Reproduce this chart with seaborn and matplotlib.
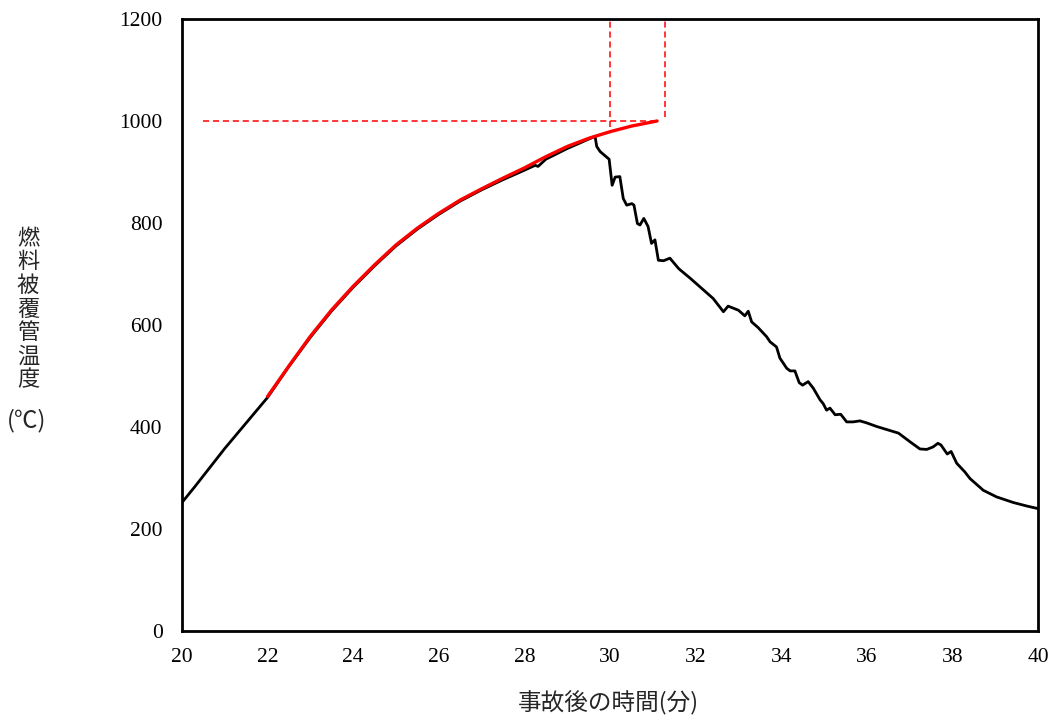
import matplotlib
matplotlib.use('Agg')
import matplotlib.pyplot as plt
import seaborn as sns
import pandas as pd

# 燃料被覆管温度（計算値）
black_t = [20.0, 20.3, 21.0, 22.0, 22.5, 23.0, 23.5, 24.0, 24.5, 25.0, 25.5, 26.0,
           26.5, 27.0, 27.5, 27.8, 28.25, 28.32, 28.5, 29.0, 29.3, 29.65,
           29.69, 29.77, 29.98, 30.05, 30.12, 30.23, 30.31, 30.39, 30.51, 30.56,
           30.64, 30.70, 30.79, 30.89, 30.97, 31.05, 31.13, 31.25, 31.40, 31.60,
           31.64, 31.87, 32.18, 32.41, 32.65, 32.76, 33.00, 33.15, 33.23, 33.31,
           33.46, 33.66, 33.74, 33.89, 33.97, 34.13, 34.21, 34.32, 34.42, 34.50,
           34.63, 34.75, 34.91, 34.98, 35.06, 35.14, 35.26, 35.39, 35.53, 35.68,
           35.84, 36.00, 36.23, 36.74, 37.01, 37.24, 37.40, 37.55, 37.66, 37.73,
           37.88, 37.97, 38.10, 38.29, 38.41, 38.72, 39.03, 39.42, 39.74, 40.0]
black_temp = [252, 283, 358, 458, 519, 576, 628, 674, 716, 755, 788, 817,
              843, 865, 885, 896, 913, 911, 925, 946, 957, 970,
              950, 940, 925, 874, 890, 891, 848, 835, 838, 835,
              799, 796, 809, 793, 760, 767, 727, 726, 731, 711,
              708, 692, 669, 652, 626, 637, 629, 618, 627, 606,
              595, 577, 567, 557, 535, 515, 510, 510, 487, 482,
              489, 476, 453, 446, 433, 437, 424, 425, 410, 410,
              412, 408, 401, 388, 371, 357, 356, 361, 368, 365,
              347, 352, 329, 312, 299, 276, 263, 252, 245, 240]

# 外挿曲線
red_t = [22.0, 22.5, 23.0, 23.5, 24.0, 24.5, 25.0, 25.5, 26.0, 26.5, 27.0, 27.5,
         28.0, 28.5, 29.0, 29.5, 30.0, 30.5, 31.1]
red_temp = [460, 520, 578, 630, 676, 718, 757, 790, 819, 845, 867, 888,
            908, 930, 950, 966, 979, 990, 1000]

# 補助線
h_line_t = [20.5, 31.1]
h_line_temp = [1000, 1000]
v1_t = [30.0, 30.0]
v1_temp = [988, 1200]
v2_t = [31.28, 31.28]
v2_temp = [1008, 1200]

x_ticks = list(range(20, 41, 2))
y_ticks = list(range(0, 1201, 200))

sns.set_style('white')
plt.rcParams['font.family'] = ['Liberation Serif', 'Noto Sans CJK JP', 'DejaVu Sans']
jp = ['Noto Sans CJK JP', 'DejaVu Sans']

fig = plt.figure(figsize=(10.54, 7.17), dpi=100)
ax = fig.add_axes([182 / 1054, 1 - 631 / 717, (1038 - 182) / 1054, (631 - 19) / 717])

black = pd.DataFrame({'t': black_t, 'temp': black_temp})
red = pd.DataFrame({'t': red_t, 'temp': red_temp})

sns.lineplot(data=black, x='t', y='temp', ax=ax, color='black', lw=2.0,
             sort=False, estimator=None)
sns.lineplot(data=red, x='t', y='temp', ax=ax, color='#ff0000', lw=2.4,
             sort=False, estimator=None)
for xs, ys in [(h_line_t, h_line_temp), (v1_t, v1_temp), (v2_t, v2_temp)]:
    sns.lineplot(x=xs, y=ys, ax=ax, color='#ff0000', lw=1.1, linestyle=(0, (4, 2.5)),
                 sort=False, estimator=None)

ax.set_xlim(20, 40)
ax.set_ylim(0, 1200)
ax.set_xticks(x_ticks)
ax.set_yticks(y_ticks)
ax.tick_params(direction='in', length=5, width=1, labelsize=15.5, colors='black')
ax.tick_params(axis='x', pad=12)
ax.tick_params(axis='y', pad=14)
for s in ax.spines.values():
    s.set_color('black')
    s.set_linewidth(2)
ax.set_xlabel('')
ax.set_ylabel('')

fig.text(608 / 1054, 1 - 703 / 717, '事故後の時間(分)', family=jp, fontsize=17,
         ha='center', va='center')
fig.text(28 / 1054, 1 - 309 / 717, '燃\n料\n被\n覆\n管\n温\n度', family=jp, fontsize=16,
         ha='center', va='center', linespacing=1.03)
fig.text(27 / 1054, 1 - 421 / 717, '(℃)', family=jp, fontsize=17,
         ha='center', va='center')

fig.savefig('out.png', dpi=100)
